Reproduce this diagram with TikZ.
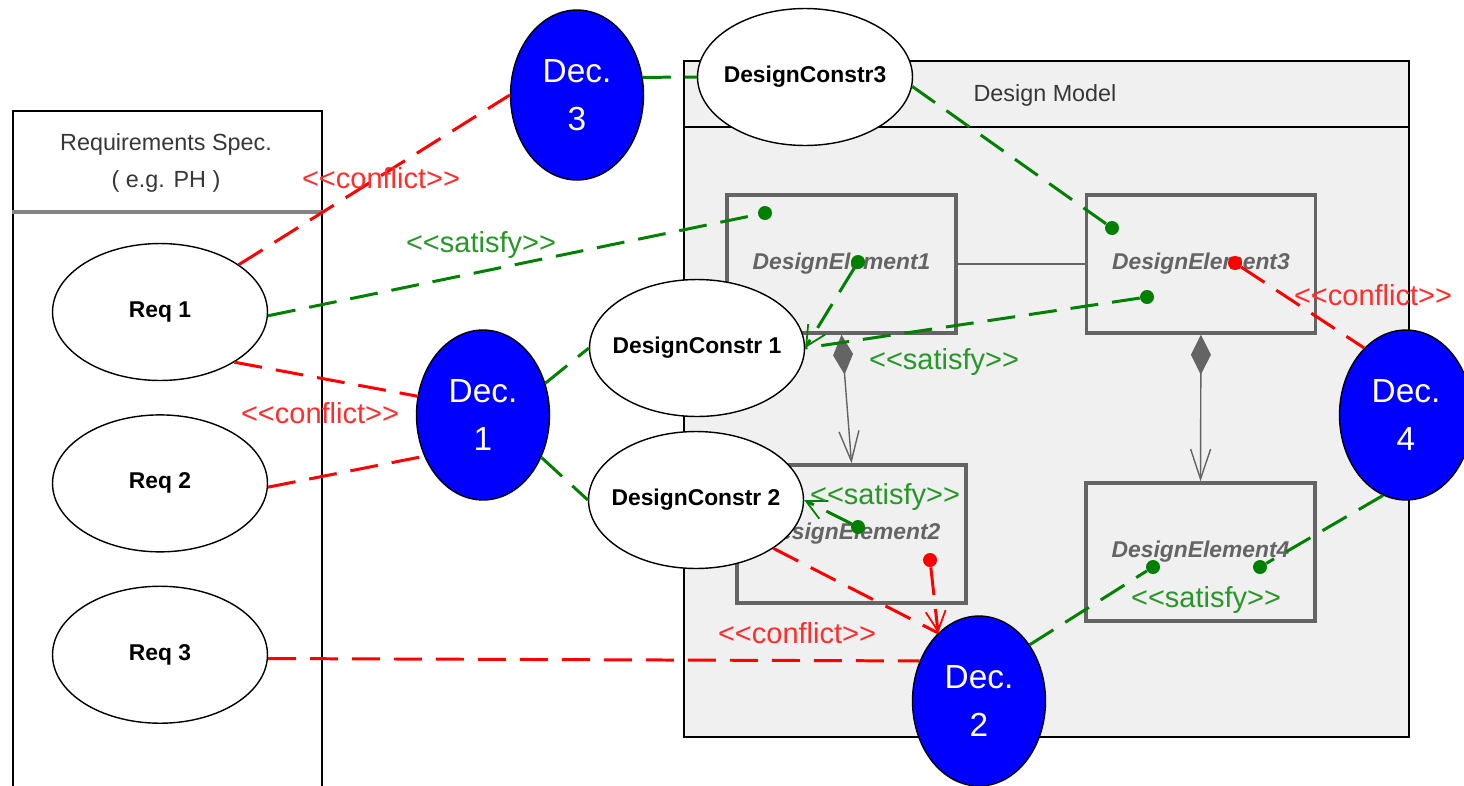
\documentclass[tikz,border=0pt]{standalone}
\usepackage{fontspec}
\setmainfont{Liberation Sans}
\usepackage{xcolor}
\usepackage{tikz}
\usetikzlibrary{shapes.geometric, arrows.meta, positioning}
\definecolor{decblue}{RGB}{0,0,255}
\definecolor{satgreen}{RGB}{0,128,0}
\definecolor{satlabel}{RGB}{40,150,40}
\definecolor{conflred}{RGB}{255,0,0}
\definecolor{confllabel}{RGB}{255,45,45}
\definecolor{elemgray}{RGB}{100,100,100}
\definecolor{modelfill}{RGB}{240,240,240}
\definecolor{headgray}{RGB}{55,55,55}
\newcommand{\stereo}[1]{<\kern0pt<#1>\kern0pt>}

\begin{document}
\begin{tikzpicture}[
    x=0.02cm, y=-0.02cm,
    pkg/.style={rectangle, draw=black, line width=1pt, inner sep=0pt},
    req/.style={ellipse, draw=black, line width=0.8pt, fill=white, minimum width=4.3cm, minimum height=2.74cm, inner sep=0pt, font=\fontsize{13}{15}\selectfont\bfseries},
    constr/.style={req, inner xsep=-0.4cm},
    dec/.style={ellipse, draw=black, line width=0.8pt, fill=decblue, text=white, minimum width=2.66cm, minimum height=3.4cm, inner sep=0pt, align=center, font=\fontsize{19}{27}\selectfont},
    element/.style={rectangle, draw=elemgray, line width=2pt, fill=modelfill, minimum width=4.58cm, minimum height=2.76cm, text=elemgray, font=\fontsize{13}{15}\selectfont\bfseries\itshape},
    head/.style={text=headgray, align=center, font=\fontsize{13.3}{21}\selectfont},
    gdot/.style={circle, fill=satgreen, inner sep=0pt, minimum size=0.28cm},
    rdot/.style={circle, fill=conflred, inner sep=0pt, minimum size=0.28cm},
    satisfy/.style={satgreen, line width=1.7pt, dash pattern=on 0.56cm off 0.28cm},
    conflict/.style={conflred, line width=1.7pt, dash pattern=on 0.56cm off 0.28cm},
    satlbl/.style={text=satlabel, font=\fontsize{16.5}{18}\selectfont},
    conflbl/.style={text=confllabel, font=\fontsize{16.5}{18}\selectfont},
    compose/.style={elemgray, line width=0.8pt, arrows={Diamond[length=0.8cm, width=0.4cm, fill=elemgray]-Straight Barb[length=0.6cm, width=0.4cm]}},
    barb/.style={arrows={-Straight Barb[length=0.4cm, width=0.4cm, line width=1pt]}}
]
\path[use as bounding box, clip] (0,0) rectangle (1464,785);

% Packages
\node[pkg, fill=white, minimum width=6.18cm, minimum height=14.38cm] (reqspec) at (167.5,470.5) {};
\draw[elemgray!80, line width=2pt] ([yshift=-2.04cm]reqspec.north west) -- ([yshift=-2.04cm]reqspec.north east);
\node[head] (reqtitle) at (166,163) {Requirements Spec.\\( e.g. PH )};

\node[pkg, fill=modelfill, minimum width=14.5cm, minimum height=13.52cm] (model) at (1046.5,399) {};
\draw[black, line width=1pt] ([yshift=-1.34cm]model.north west) -- ([yshift=-1.34cm]model.north east);
\node[head] (modeltitle) at (1045,95) {Design Model};

% Design elements
\node[element] (de1) at (841.5,264) {DesignElement1};
\node[element, right=2.54cm of de1] (de3) {DesignElement3};
\node[element] (de2) at (851.5,534) {DesignElement2};
\node[element] (de4) at (1200.5,552) {DesignElement4};

\draw[elemgray, line width=0.8pt] (de1) -- (de3);
\draw[compose] (de1.south) -- (de2.north);
\draw[compose] (de3.south) -- (de4.north);

% Requirements
\node[req] (req1) at (160,312) {Req 1};
\node[req, below=0.66cm of req1] (req2) {Req 2};
\node[req, below=0.66cm of req2] (req3) {Req 3};

% Design constraints
\node[constr] (dc3) at (805,77) {DesignConstr3};
\node[constr] (dc1) at (697,348) {DesignConstr 1};
\node[constr] (dc2) at (696,500) {DesignConstr 2};

% Decisions
\node[dec] (dec3) at (577,95) {Dec.\\3};
\node[dec] (dec1) at (483,415) {Dec.\\1};
\node[dec] (dec2) at (979,701) {Dec.\\2};
\node[dec] (dec4) at (1406,415) {Dec.\\4};

% Connection points
\node[gdot] (gd1a) at (765,213) {};
\node[gdot] (gd1b) at (858,262) {};
\node[gdot] (gd3a) at (1112,228) {};
\node[gdot] (gd3b) at (1147,297) {};
\node[rdot] (rd3) at (1235,263) {};
\node[gdot] (gd2) at (858,527) {};
\node[rdot] (rd2) at (930,560) {};
\node[gdot] (gd4a) at (1153,567) {};
\node[gdot] (gd4b) at (1260,567) {};

% Conflicts
\draw[conflict] (req1.31) -- (dec3.west);
\draw[conflict] (req1.-34) -- (dec1.164);
\draw[conflict] (req2.-2) -- (dec1.215);
\draw[conflict] (req3.-2) -- (dec2.146);
\draw[conflict] (dc2.-32) -- (dec2.121);
\draw[conflict, barb] (rd2) -- (dec2.121);
\draw[conflict] (rd3) -- (dec4.122);

% Satisfactions
\draw[satisfy] (req1.-2) -- (gd1a);
\draw[satisfy] (dec3.15) -- (dc3.west);
\draw[satisfy] (dc3.-5) -- (gd3a);
\draw[satisfy] (dec1.27) -- (dc1.west);
\draw[satisfy] (dec1.-36) -- (dc2.west);
\draw[satisfy, barb] (gd1b) -- (dc1.east);
\draw[satisfy] (gd3b) -- (dc1.east);
\draw[satisfy, barb] (gd2) -- (dc2.east);
\draw[satisfy] (dec2.48) -- (gd4a);
\draw[satisfy] (dec4.254) -- (gd4b);

% Stereotype labels
\node[conflbl] (cl1) at (381,178) {\stereo{conflict}};
\node[conflbl] (cl2) at (320,413) {\stereo{conflict}};
\node[conflbl] (cl3) at (797,633) {\stereo{conflict}};
\node[conflbl] (cl4) at (1373,295) {\stereo{conflict}};
\node[satlbl] (sl1) at (481,245) {\stereo{satisfy}};
\node[satlbl] (sl2) at (944,362) {\stereo{satisfy}};
\node[satlbl] (sl3) at (885,497) {\stereo{satisfy}};
\node[satlbl] (sl4) at (1206,600) {\stereo{satisfy}};

\end{tikzpicture}
\end{document}
